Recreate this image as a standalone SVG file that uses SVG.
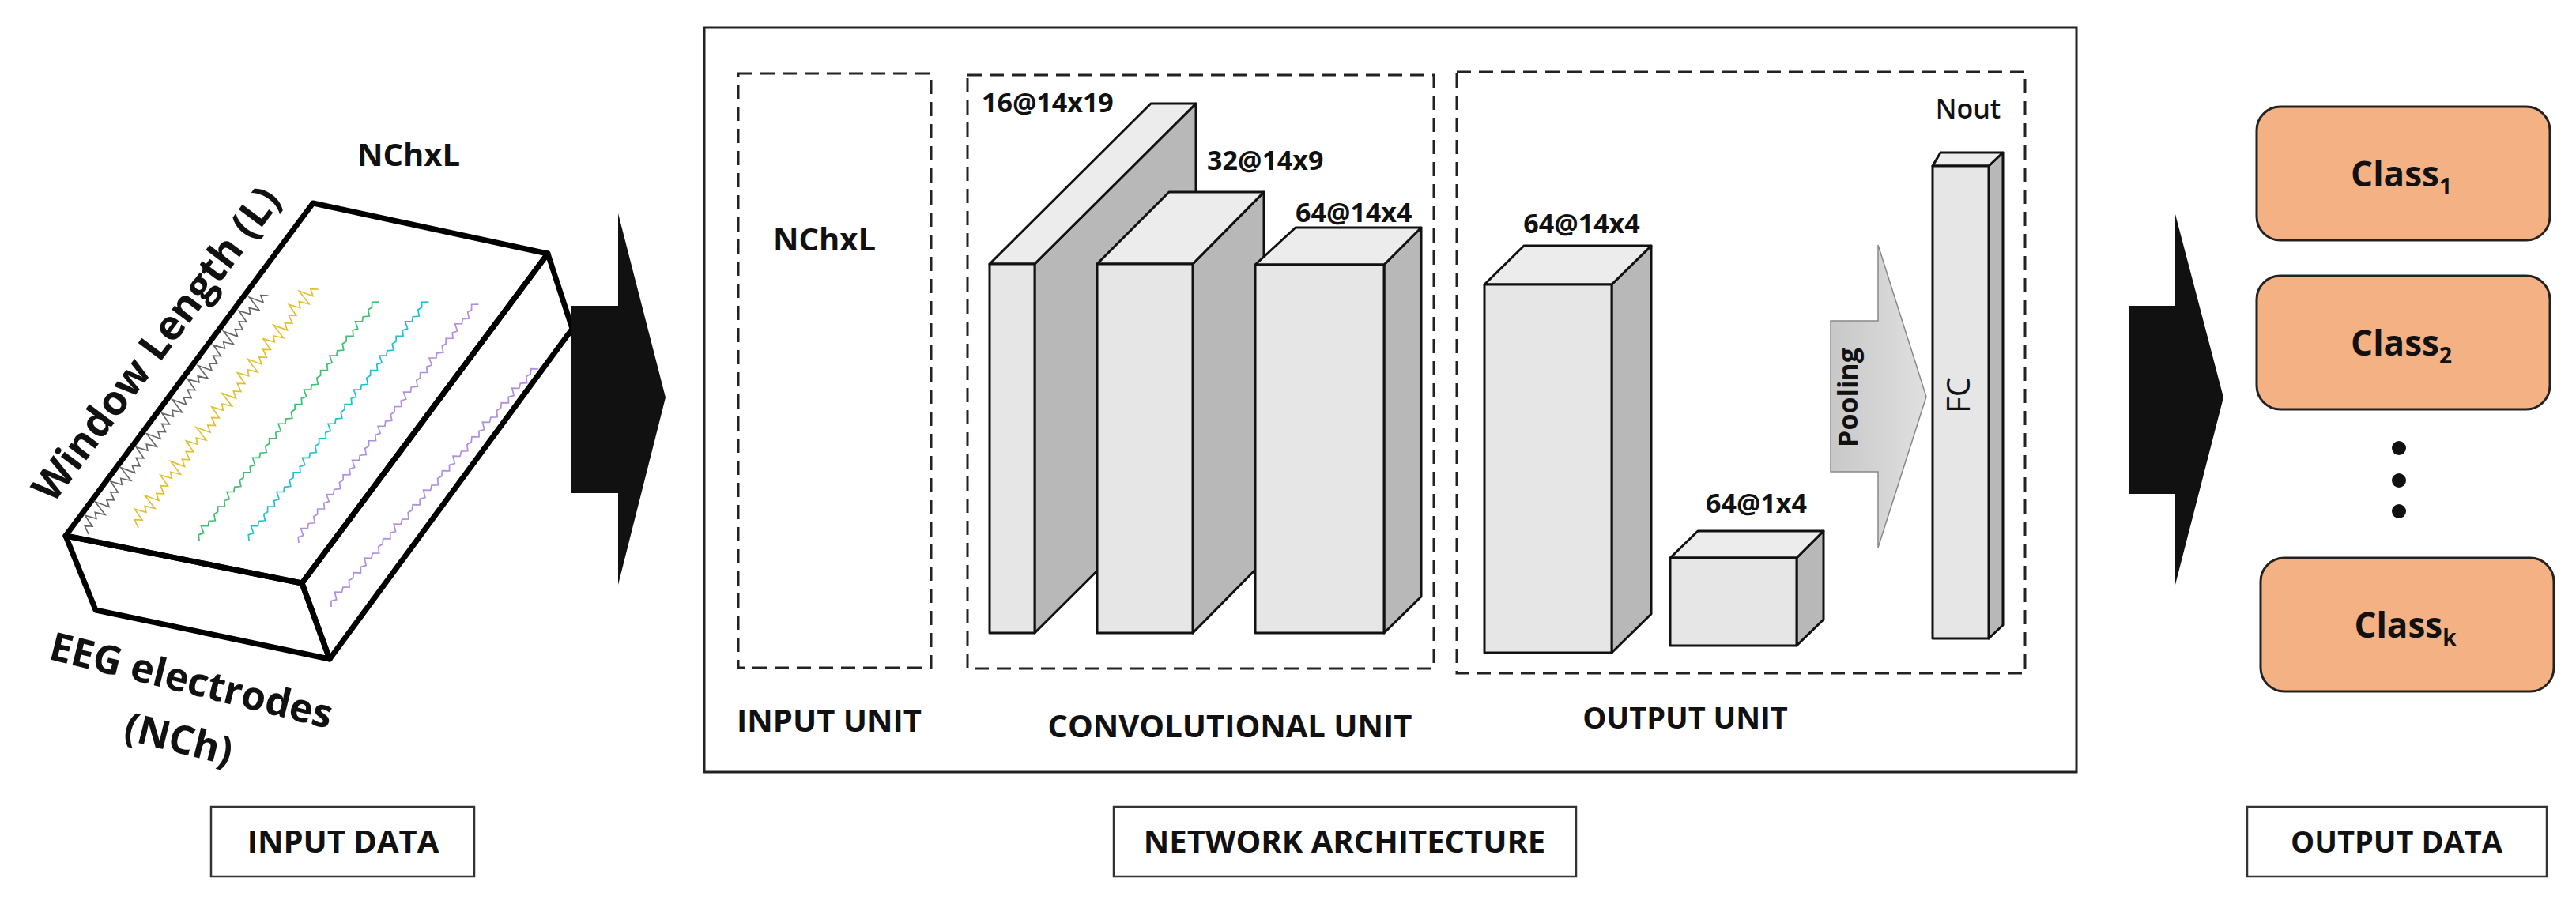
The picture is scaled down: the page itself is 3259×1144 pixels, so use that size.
<svg xmlns="http://www.w3.org/2000/svg" width="3259" height="1144" viewBox="0 0 3259 1144">
<style>
text{font-family:"Open Sans","Liberation Sans",sans-serif;font-weight:bold;fill:#111}
.lbl{font-size:40px;text-anchor:middle}
.dim{font-size:34px}
.thick{fill:none;stroke:#000;stroke-width:7;stroke-linejoin:round}
.dash{fill:none;stroke:#222;stroke-width:3;stroke-dasharray:18,10}
.front{fill:#e6e6e6;stroke:#111;stroke-width:3;stroke-linejoin:round}
.side{fill:#b8b8b8;stroke:#111;stroke-width:3;stroke-linejoin:round}
.top{fill:#ececec;stroke:#111;stroke-width:3;stroke-linejoin:round}
.cls{fill:#f4b183;stroke:#222;stroke-width:3}
.tr{fill:none;stroke-width:1.8}
</style>
<defs>
<path id="wbig" d="M0,0 l6,-10 6,8 6,-16 6,14 6,-6 6,12 6,-20 6,18 6,-8 6,8 6,-10 6,8 6,-16 6,14 6,-6 6,12 6,-20 6,18 6,-8 6,8 6,-10 6,8 6,-16 6,14 6,-6 6,12 6,-20 6,18 6,-8 6,8 6,-10 6,8 6,-16 6,14 6,-6 6,12 6,-20 6,18 6,-8 6,8 6,-10 6,8 6,-16 6,14 6,-6 6,12 6,-20 6,18 6,-8 6,8 6,-10 6,8 6,-16 6,14 6,-6 6,12 6,-20 6,18 6,-8 6,8 6,-10 6,8 6,-16 6,14 6,-6 6,12 6,-20 6,18 6,-8 6,8"/>
<path id="wsm" d="M0,0 l6,-5 6,4 6,-8 6,7 6,-3 6,6 6,-6 6,2 6,-4 6,7 6,-5 6,4 6,-8 6,7 6,-3 6,6 6,-6 6,2 6,-4 6,7 6,-5 6,4 6,-8 6,7 6,-3 6,6 6,-6 6,2 6,-4 6,7 6,-5 6,4 6,-8 6,7 6,-3 6,6 6,-6 6,2 6,-4 6,7 6,-5 6,4 6,-8 6,7 6,-3 6,6 6,-6 6,2 6,-4 6,7 6,-5 6,4 6,-8 6,7 6,-3 6,6 6,-6 6,2 6,-4 6,7 6,-5 6,4 6,-8 6,7 6,-3 6,6 6,-6 6,2 6,-4 6,7"/>
<linearGradient id="pg" x1="0" y1="0" x2="1" y2="0"><stop offset="0" stop-color="#c8c8c8"/><stop offset="1" stop-color="#e0e0e0"/></linearGradient>
</defs>

<g id="input-data">
<polygon points="83,678 382,738 417,834 121,772" fill="#fff" class="thick"/>
<polygon points="382,738 693,321 724,416 417,834" fill="#fff" class="thick"/>
<polygon points="83,678 396,257 693,321 382,738" fill="#fff" class="thick"/>
<g class="tr">
<use href="#wbig" stroke="#666" transform="translate(112,676) rotate(-53) scale(0.9,1)"/>
<use href="#wbig" stroke="#e0c030" transform="translate(175,668) rotate(-53) scale(0.9,1)"/>
<use href="#wsm" stroke="#40c070" transform="translate(252,684) rotate(-53) scale(0.9,1)"/>
<use href="#wsm" stroke="#20c0d0" transform="translate(315,684) rotate(-53) scale(0.9,1)"/>
<use href="#wsm" stroke="#b090e0" transform="translate(378,687) rotate(-53) scale(0.9,1)"/>
<use href="#wsm" stroke="#b090e0" transform="translate(419,768) rotate(-49) scale(0.95,1)"/>
</g>
<text class="lbl" x="517" y="210">NChxL</text>
<text class="lbl" transform="translate(212,446) rotate(-53)" style="font-size:52px">Window Length (L)</text>
<text class="lbl" transform="translate(238,878) rotate(14)" style="font-size:50px">EEG electrodes</text>
<text class="lbl" transform="translate(222,952) rotate(14)" style="font-size:50px">(NCh)</text>
<rect x="267" y="1021" width="333" height="88" fill="#fff" stroke="#333" stroke-width="2.5"/>
<text class="lbl" x="434" y="1079">INPUT DATA</text>
</g>

<g id="connectors">
<polygon points="722,387 782,387 782,270 842,503 782,740 782,624 722,624" fill="#111"/>
<polygon points="2693,387 2752,387 2752,271 2813,503 2752,740 2752,625 2693,625" fill="#111"/>
</g>

<g id="network">
<rect x="891" y="35" width="1736" height="942" fill="none" stroke="#222" stroke-width="3"/>
<rect x="1409" y="1021" width="585" height="88" fill="#fff" stroke="#333" stroke-width="2.5"/>
<text class="lbl" x="1701" y="1079">NETWORK ARCHITECTURE</text>
</g>

<g id="input-unit">
<rect class="dash" x="934" y="93" width="244" height="752"/>
<text class="lbl" x="1043" y="317">NChxL</text>
<text class="lbl" x="1049" y="926">INPUT UNIT</text>
</g>

<g id="conv-unit">
<rect class="dash" x="1224" y="95" width="590" height="751"/>
<text class="dim" x="1242" y="142">16@14x19</text>
<polygon class="side" points="1309,334 1513,131 1513,598 1309,801"/>
<polygon class="top" points="1252,334 1456,131 1513,131 1309,334"/>
<rect class="front" x="1252" y="334" width="57" height="467"/>
<text class="dim" x="1527" y="215">32@14x9</text>
<polygon class="side" points="1509,334 1599,243 1599,710 1509,801"/>
<polygon class="top" points="1388,334 1479,243 1599,243 1509,334"/>
<rect class="front" x="1388" y="334" width="121" height="467"/>
<text class="dim" x="1639" y="281">64@14x4</text>
<polygon class="side" points="1751,335 1798,288 1798,755 1751,801"/>
<polygon class="top" points="1588,335 1639,288 1798,288 1751,335"/>
<rect class="front" x="1588" y="335" width="163" height="466"/>
<text class="lbl" x="1556" y="933">CONVOLUTIONAL UNIT</text>
</g>

<g id="output-unit">
<rect class="dash" x="1843" y="91" width="719" height="761"/>
<text class="dim" x="2490" y="150" text-anchor="middle" style="font-weight:600">Nout</text>
<text class="dim" x="2001" y="295" text-anchor="middle">64@14x4</text>
<polygon class="side" points="2039,360 2089,311 2089,777 2039,826"/>
<polygon class="top" points="1878,360 1928,311 2089,311 2039,360"/>
<rect class="front" x="1878" y="360" width="161" height="466"/>
<text class="dim" x="2222" y="649" text-anchor="middle">64@1x4</text>
<polygon class="side" points="2273,706 2307,672 2307,784 2273,817"/>
<polygon class="top" points="2113,706 2148,672 2307,672 2273,706"/>
<rect class="front" x="2113" y="706" width="160" height="111"/>
<polygon points="2316,406 2376,406 2376,310 2437,502 2376,693 2376,597 2316,597" fill="url(#pg)" stroke="#888" stroke-width="1.5"/>
<text class="dim" text-anchor="middle" transform="translate(2350,503) rotate(-90)">Pooling</text>
<polygon class="side" points="2516,210 2534,193 2534,791 2516,808"/>
<polygon class="top" points="2445,210 2455,193 2534,193 2516,210"/>
<rect class="front" x="2445" y="210" width="71" height="598"/>
<text text-anchor="middle" transform="translate(2492,500) rotate(-90)" style="font-size:40px;font-weight:normal">FC</text>
<text class="lbl" x="2132" y="922" style="font-size:38px">OUTPUT UNIT</text>
</g>

<g id="class1"><rect class="cls" x="2855" y="135" width="371" height="169" rx="30"/><text class="lbl" x="3038" y="236" style="font-size:44px">Class<tspan style="font-size:28px" dy="10">1</tspan></text></g>
<g id="class2"><rect class="cls" x="2855" y="349" width="371" height="169" rx="30"/><text class="lbl" x="3038" y="450" style="font-size:44px">Class<tspan style="font-size:28px" dy="10">2</tspan></text></g>
<g id="dots"><circle cx="3035" cy="567" r="9" fill="#111"/><circle cx="3035" cy="608" r="9" fill="#111"/><circle cx="3035" cy="647" r="9" fill="#111"/></g>
<g id="classk"><rect class="cls" x="2860" y="706" width="371" height="169" rx="30"/><text class="lbl" x="3043" y="807" style="font-size:44px">Class<tspan style="font-size:28px" dy="10">k</tspan></text></g>
<g id="output-data"><rect x="2843" y="1021" width="379" height="88" fill="#fff" stroke="#333" stroke-width="2.5"/><text class="lbl" x="3032" y="1079" style="font-size:38px">OUTPUT DATA</text></g>
</svg>
